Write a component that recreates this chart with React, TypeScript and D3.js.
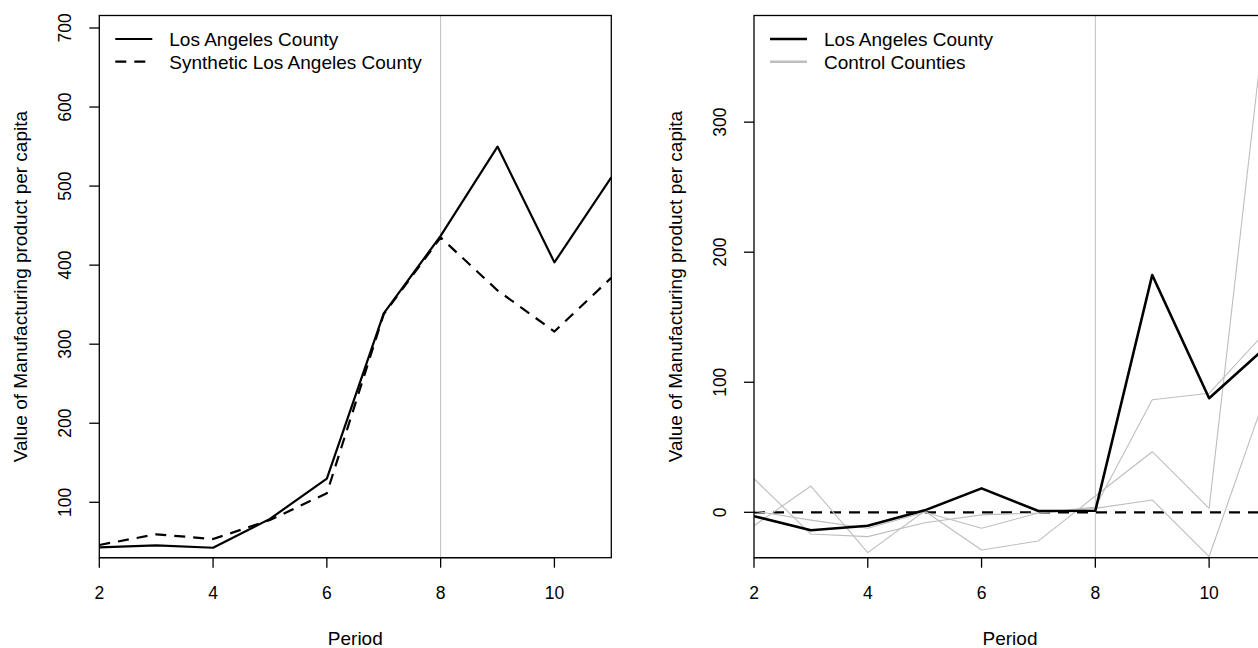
import * as d3 from "d3";

const W = 1258;
const H = 648;
const FONT = "'Liberation Sans', Arial, Helvetica, sans-serif";
const GREY = "#bebebe";

// data
const periods = [2, 3, 4, 5, 6, 7, 8, 9, 10, 11];
const treatPeriod = 8;
const xTicks = [2, 4, 6, 8, 10];

const laCounty = [43, 45.5, 42.5, 79, 130, 339, 437, 550, 403.5, 511];
const syntheticLA = [46, 59.5, 53.5, 77.5, 111.5, 338, 435, 368, 316, 384];
const leftTicks = [100, 200, 300, 400, 500, 600, 700];

const laGap = [-3, -13.8, -10.3, 1.5, 18.4, 1, 1.2, 182.5, 87.7, 127];
const controlA = [25.9, -16.7, -18.7, -8, -2, -0.5, 4, 86.5, 91.5, 139];
const controlB = [-10.3, 20.2, -31, 1, -29, -22, 12.5, 46.6, 3, 387];
const controlC = [1, -6, -12.3, 0, -12.3, -0.5, 3, 9.5, -34, 91];
const rightTicks = [0, 100, 200, 300];

const yTitle = "Value of Manufacturing product per capita";
const xTitle = "Period";

type Series = { values: number[]; color: string; width: number; dash?: string };
type LegendItem = { label: string; color: string; width: number; dash?: string };

type PanelProps = {
  id: string;
  left: number;
  right: number;
  yDomain: [number, number];
  yTicks: number[];
  series: Series[];
  legend: LegendItem[];
  zeroLine?: boolean;
};

const TOP = 15.5;
const BOTTOM = 557.7;

function Panel({ id, left, right, yDomain, yTicks, series, legend, zeroLine }: PanelProps) {
  const x = d3.scaleLinear().domain([2, 11]).range([left, right]);
  const y = d3.scaleLinear().domain(yDomain).range([BOTTOM, TOP]);
  const line = d3
    .line<number>()
    .x((_, i) => x(periods[i]))
    .y((d) => y(d));
  const midY = (TOP + BOTTOM) / 2;
  const midX = (left + right) / 2;

  return (
    <g fontFamily={FONT}>
      <defs>
        <clipPath id={id}>
          <rect x={left} y={TOP} width={right - left} height={BOTTOM - TOP} />
        </clipPath>
      </defs>

      <g clipPath={`url(#${id})`}>
        <line x1={x(treatPeriod)} x2={x(treatPeriod)} y1={TOP} y2={BOTTOM} stroke={GREY} strokeWidth={1} />
        {zeroLine && (
          <line x1={left} x2={right} y1={y(0)} y2={y(0)} stroke="#000" strokeWidth={2.2} strokeDasharray="11 8" />
        )}
        {series.map((s, i) => (
          <path
            key={i}
            d={line(s.values) ?? ""}
            fill="none"
            stroke={s.color}
            strokeWidth={s.width}
            strokeDasharray={s.dash}
            strokeLinejoin="round"
          />
        ))}
      </g>

      <rect x={left} y={TOP} width={right - left} height={BOTTOM - TOP} fill="none" stroke="#000" strokeWidth={1.3} />

      {/* x axis */}
      <line x1={x(xTicks[0])} x2={x(xTicks[xTicks.length - 1])} y1={BOTTOM} y2={BOTTOM} stroke="#000" strokeWidth={1.3} />
      {xTicks.map((t) => (
        <g key={t}>
          <line x1={x(t)} x2={x(t)} y1={BOTTOM} y2={BOTTOM + 10} stroke="#000" strokeWidth={1.3} />
          <text x={x(t)} y={598.5} textAnchor="middle" fontSize={17.5}>
            {t}
          </text>
        </g>
      ))}

      {/* y axis */}
      {yTicks.map((t) => (
        <g key={t}>
          <line x1={left - 10} x2={left} y1={y(t)} y2={y(t)} stroke="#000" strokeWidth={1.3} />
          <text
            transform={`translate(${left - 28},${y(t)}) rotate(-90)`}
            textAnchor="middle"
            fontSize={17.5}
          >
            {t}
          </text>
        </g>
      ))}

      <text x={midX} y={644.5} textAnchor="middle" fontSize={19}>
        {xTitle}
      </text>
      <text transform={`translate(${left - 72},${midY}) rotate(-90)`} textAnchor="middle" fontSize={19}>
        {yTitle}
      </text>

      {legend.map((item, i) => {
        const ly = 39 + i * 22.7;
        return (
          <g key={item.label}>
            <line
              x1={left + 16}
              x2={left + 53}
              y1={ly}
              y2={ly}
              stroke={item.color}
              strokeWidth={item.width}
              strokeDasharray={item.dash}
            />
            <text x={left + 70} y={ly + 6.8} fontSize={19}>
              {item.label}
            </text>
          </g>
        );
      })}
    </g>
  );
}

export default function App() {
  return (
    <div style={{ position: "absolute", left: 0, top: 0 }}>
      <svg width={W} height={H} style={{ display: "block", background: "#fff" }}>
        <Panel
          id="clip-left"
          left={99.3}
          right={611.3}
          yDomain={[29.9, 715.8]}
          yTicks={leftTicks}
          series={[
            { values: laCounty, color: "#000", width: 2.2 },
            { values: syntheticLA, color: "#000", width: 2.2, dash: "11 8" },
          ]}
          legend={[
            { label: "Los Angeles County", color: "#000", width: 2.2 },
            { label: "Synthetic Los Angeles County", color: "#000", width: 2.2, dash: "11 8" },
          ]}
        />
        <Panel
          id="clip-right"
          left={754}
          right={1266}
          yDomain={[-34.9, 382]}
          yTicks={rightTicks}
          zeroLine
          series={[
            { values: controlA, color: GREY, width: 1.1 },
            { values: controlB, color: GREY, width: 1.1 },
            { values: controlC, color: GREY, width: 1.1 },
            { values: laGap, color: "#000", width: 2.6 },
          ]}
          legend={[
            { label: "Los Angeles County", color: "#000", width: 2.6 },
            { label: "Control Counties", color: GREY, width: 2.6 },
          ]}
        />
      </svg>
    </div>
  );
}
